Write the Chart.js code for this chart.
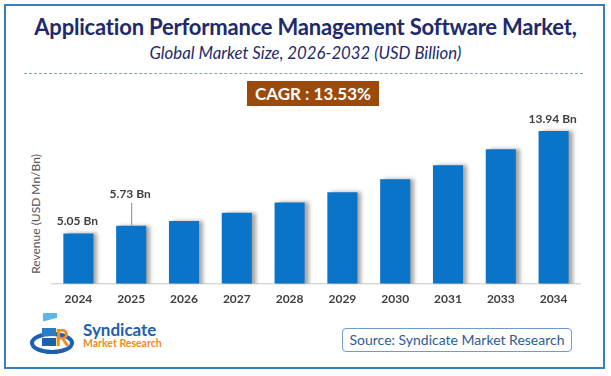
<!DOCTYPE html>
<html>
<head>
<meta charset="utf-8">
<script src="https://cdn.jsdelivr.net/npm/chart.js@4.4.1/dist/chart.umd.min.js"></script>
<style>
  body { margin: 0; width: 611px; height: 376px; background: #fff; font-family: Lato, "Open Sans", sans-serif; overflow: hidden; }
  #wrap { position: relative; width: 611px; height: 376px; }
  #frame { position: absolute; left: 4px; top: 4px; width: 597px; height: 361px; border: 2px solid #3b7cc6; }
  #title { position: absolute; left: 0; width: 611px; top: 13px; text-align: center; font-weight: 700; font-size: 22px; color: #1d2a6c; letter-spacing: -0.2px; }
  #subtitle { position: absolute; left: 0; width: 611px; top: 42px; text-align: center; font-style: italic; font-size: 16.8px; color: #1d2a6c; }
  #dash { position: absolute; left: 24px; top: 73px; width: 559px; border-top: 1px dashed #7c9fd2; }
  #cagr { position: absolute; left: 247px; top: 81px; width: 132px; height: 25px; background: #9b4a0c; color: #fff; font-weight: 700; font-size: 17px; line-height: 25px; text-align: center; }
  #ytitle { position: absolute; left: 35px; top: 214px; transform: translate(-50%, -50%) rotate(-90deg); white-space: nowrap; font-size: 12px; color: #555; }
  #source { position: absolute; left: 342px; top: 328px; width: 228px; height: 22px; border: 1px solid #6d9bd3; border-radius: 4px; font-size: 14px; color: #2f5b8f; line-height: 22px; text-align: center; }
  #logo { position: absolute; left: 30px; top: 313px; }
  #brand1 { position: absolute; left: 83px; top: 319px; font-weight: 700; font-size: 17px; color: #1f5fae; }
  #brand2 { position: absolute; left: 83px; top: 337px; font-weight: 700; font-size: 10.5px; color: #f08a24; }
  canvas { position: absolute; left: 0; top: 0; }
</style>
</head>
<body>
<div id="wrap">
  <div id="frame"></div>
  <div id="title">Application Performance Management Software Market,</div>
  <div id="subtitle">Global Market Size, 2026-2032 (USD Billion)</div>
  <div id="dash"></div>
  <div id="cagr">CAGR : 13.53%</div>
  <div id="ytitle">Revenue (USD Mn/Bn)</div>
  <svg id="logo" width="48" height="42" viewBox="0 0 48 42">
    <ellipse cx="22" cy="30" rx="20" ry="9" fill="none" stroke="#1d5fb0" stroke-width="4"/>
    <rect x="13" y="4" width="14" height="8" fill="#5fb4ea" transform="skewY(-15)"/>
    <rect x="12" y="15" width="14" height="8" fill="#2a7cc8"/>
    <rect x="12" y="25" width="14" height="8" fill="#1d5fb0"/>
    <text x="25" y="33" font-family="Lato" font-weight="700" font-size="22" fill="#f08a24">R</text>
  </svg>
  <div id="brand1">Syndicate</div>
  <div id="brand2">Market Research</div>
  <div id="source">Source: Syndicate Market Research</div>
  <canvas id="chart" width="611" height="376"></canvas>
</div>
<script>
// chart data
const years = ['2024', '2025', '2026', '2027', '2028', '2029', '2030', '2031', '2033', '2034'];
const revenue = [5.05, 5.73, 6.14, 6.86, 7.74, 8.62, 9.76, 10.98, 12.36, 13.94];
const valueLabels = ['5.05 Bn', '5.73 Bn', '', '', '', '', '', '', '', '13.94 Bn'];

// soft shadow on the right of each bar
const barShadow = {
    id: 'barShadow',
    beforeDatasetsDraw(chart) {
        const ctx = chart.ctx;
        ctx.save();
        ctx.shadowColor = 'rgba(0,0,0,0.35)';
        ctx.shadowOffsetX = 4;
        ctx.shadowOffsetY = 0;
        ctx.shadowBlur = 4;
    },
    afterDatasetsDraw(chart) {
        chart.ctx.restore();
    }
};

// value labels, 2025 one sits higher with a leader line
const barLabels = {
    id: 'barLabels',
    afterDatasetsDraw(chart) {
        const ctx = chart.ctx;
        const bars = chart.getDatasetMeta(0).data;
        ctx.save();
        ctx.font = 'bold 12px Lato, sans-serif';
        ctx.fillStyle = '#404040';
        ctx.textAlign = 'center';
        ctx.textBaseline = 'middle';
        bars.forEach((bar, i) => {
            if (!valueLabels[i]) return;
            let y = bar.y - 12;
            if (i === 1) {
                y = bar.y - 32;
                ctx.strokeStyle = '#8c8c8c';
                ctx.lineWidth = 1;
                ctx.beginPath();
                ctx.moveTo(bar.x + 0.5, bar.y);
                ctx.lineTo(bar.x + 0.5, bar.y - 23);
                ctx.stroke();
            }
            ctx.fillText(valueLabels[i], bar.x - 1, y);
        });
        ctx.restore();
    }
};

new Chart(document.getElementById('chart'), {
    type: 'bar',
    data: {
        labels: years,
        datasets: [{
            data: revenue,
            backgroundColor: '#0a74c9',
            borderWidth: 0,
            categoryPercentage: 1,
            barPercentage: 0.57
        }]
    },
    options: {
        responsive: false,
        animation: false,
        layout: { padding: { left: 52, right: 31, top: 120, bottom: 62 } },
        plugins: {
            legend: { display: false },
            tooltip: { enabled: false }
        },
        scales: {
            x: {
                grid: { display: false, drawTicks: false },
                border: { display: true, color: '#d9d9d9', width: 1.5 },
                ticks: {
                    padding: 8,
                    color: '#404040',
                    font: { family: 'Lato', weight: 'bold', size: 12 }
                }
            },
            y: {
                display: false,
                min: 0.7,
                max: 14.9
            }
        }
    },
    plugins: [barShadow, barLabels]
});
</script>
</body>
</html>
